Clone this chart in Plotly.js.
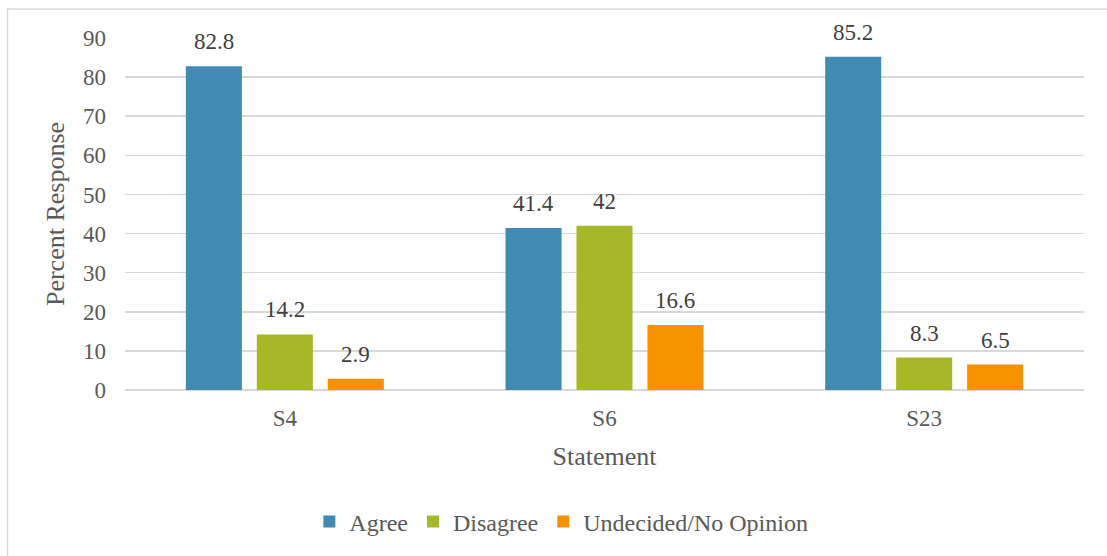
<!DOCTYPE html>
<html>
<head>
<meta charset="utf-8">
<script src="https://cdn.plot.ly/plotly-3.0.1.min.js"></script>
<style>
html,body{margin:0;padding:0;background:#fff;}
#chart{width:1107px;height:556px;}
</style>
</head>
<body>
<div id="chart"></div>
<script>
const categories = ["S4", "S6", "S23"];
const agree = [82.8, 41.4, 85.2];
const disagree = [14.2, 42, 8.3];
const undecided = [2.9, 16.6, 6.5];
const seriesNames = ["Agree", "Disagree", "Undecided/No Opinion"];
const seriesColors = ["#418AB3", "#A6B727", "#F69200"];
const yTicks = [0, 10, 20, 30, 40, 50, 60, 70, 80, 90];

const seriesValues = [agree, disagree, undecided];
const FONT = "Liberation Serif";

const traces = seriesValues.map((vals, i) => ({
  type: "bar",
  name: seriesNames[i],
  x: categories,
  y: vals,
  marker: {color: seriesColors[i]},
  hoverinfo: "skip"
}));

const W = 1107, ML = 125, MR = 23;
const plotW = W - ML - MR;
const bargap = 0.334;
const slot = plotW / categories.length * (1 - bargap) / seriesValues.length;

const annotations = [];
seriesValues.forEach((vals, i) => {
  vals.forEach((v, j) => {
    annotations.push({
      x: categories[j], y: v, xref: "x", yref: "y",
      text: String(v), showarrow: false,
      yanchor: "bottom", xanchor: "center",
      xshift: (i - 1) * slot, yshift: 10,
      font: {family: FONT, size: 23, color: "#404040"}
    });
  });
});

const layout = {
  width: 1107, height: 556,
  margin: {l: ML, r: MR, t: 38, b: 166},
  paper_bgcolor: "#ffffff",
  plot_bgcolor: "#ffffff",
  font: {family: FONT, size: 23, color: "#595959"},
  barmode: "group",
  bargap: bargap,
  bargroupgap: 0.21,
  showlegend: true,
  legend: {
    orientation: "h",
    x: 0.455, xanchor: "center",
    y: -0.375, yanchor: "middle",
    font: {family: FONT, size: 24, color: "#595959"},
    traceorder: "normal",
    itemclick: false
  },
  xaxis: {
    type: "category",
    showgrid: false,
    zeroline: false,
    showline: false,
    ticks: "",
    ticklabelstandoff: 12,
    tickfont: {family: FONT, size: 23, color: "#595959"},
    title: {text: "Statement", standoff: 16, font: {family: FONT, size: 26, color: "#595959"}},
    automargin: false
  },
  yaxis: {
    range: [0, 90],
    tickvals: yTicks,
    ticktext: yTicks.map(String),
    showgrid: true,
    gridcolor: "#D9D9D9",
    gridwidth: 1.5,
    zeroline: true,
    zerolinecolor: "#D9D9D9",
    zerolinewidth: 1.5,
    showline: false,
    ticks: "",
    ticklabelstandoff: 18,
    tickfont: {family: FONT, size: 23, color: "#595959"},
    title: {text: "Percent Response", standoff: 10, font: {family: FONT, size: 26, color: "#595959"}},
    automargin: false
  },
  annotations: annotations,
  shapes: [{
    type: "rect", xref: "paper", yref: "paper",
    x0: (7.5 - ML) / plotW, x1: 1.2,
    y0: -1, y1: (390 - 9) / 352,
    line: {color: "#D9D9D9", width: 1.5},
    fillcolor: "rgba(0,0,0,0)",
    layer: "below"
  }]
};

Plotly.newPlot("chart", traces, layout, {displayModeBar: false, staticPlot: true});
</script>
</body>
</html>
